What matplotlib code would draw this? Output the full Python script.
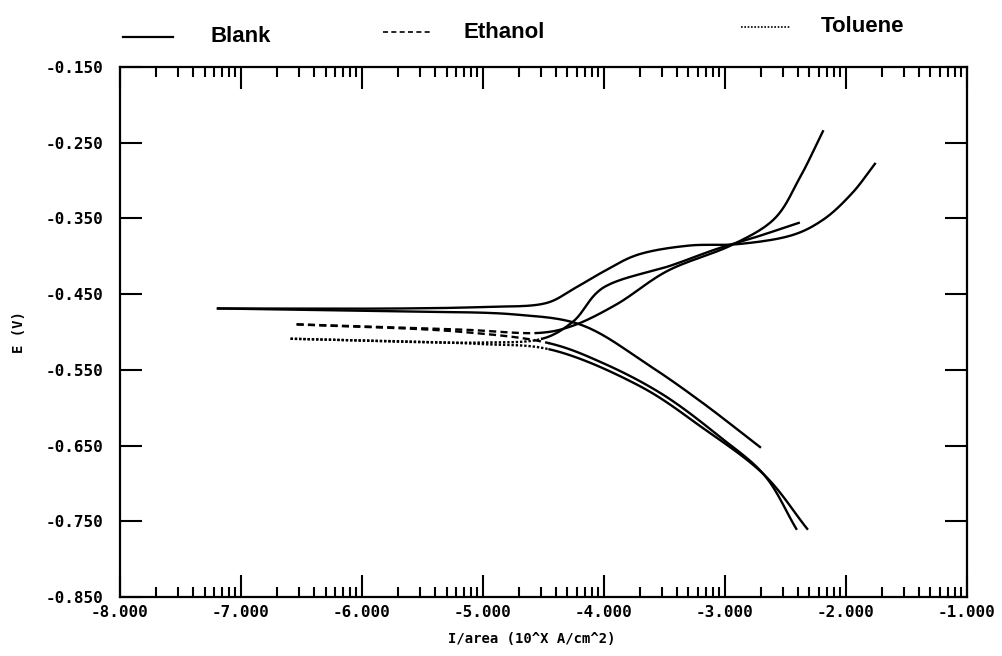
import numpy as np
import matplotlib
matplotlib.use('Agg')
import matplotlib.pyplot as plt
from matplotlib.lines import Line2D
from matplotlib.ticker import FixedLocator, FuncFormatter


# log current density (10^X A/cm^2) and potential E (V), one path per run:
# tip at Ecorr -> anodic branch, tip -> cathodic branch
blank_an_x = [-7.19, -5.67, -5.00, -4.48, -4.25, -4.00, -3.72, -3.30, -2.89, -2.44, -2.19, -1.95, -1.76]
blank_an_y = [-0.469, -0.469, -0.467, -0.462, -0.443, -0.420, -0.398, -0.386, -0.384, -0.372, -0.352, -0.317, -0.278]
blank_ca_x = [-7.19, -5.67, -4.73, -4.20, -3.62, -3.19, -2.71]
blank_ca_y = [-0.469, -0.473, -0.477, -0.490, -0.545, -0.593, -0.652]

eth_an_x = [-6.54, -5.17, -4.51, -4.26, -3.90, -3.47, -2.94, -2.60, -2.38, -2.19]
eth_an_y = [-0.490, -0.497, -0.501, -0.492, -0.464, -0.419, -0.385, -0.352, -0.296, -0.235]
eth_ca_x = [-6.54, -5.17, -4.45, -4.01, -3.52, -3.03, -2.68, -2.41]
eth_ca_y = [-0.490, -0.500, -0.515, -0.541, -0.582, -0.640, -0.688, -0.760]

tol_an_x = [-6.59, -5.01, -4.51, -4.26, -4.00, -3.44, -3.06, -2.75, -2.39]
tol_an_y = [-0.509, -0.514, -0.509, -0.487, -0.441, -0.412, -0.390, -0.375, -0.356]
tol_ca_x = [-6.59, -5.01, -4.45, -3.71, -3.19, -2.68, -2.32]
tol_ca_y = [-0.509, -0.516, -0.523, -0.571, -0.626, -0.688, -0.760]

x_major = [-8, -7, -6, -5, -4, -3, -2, -1]
y_major = [-0.85, -0.75, -0.65, -0.55, -0.45, -0.35, -0.25, -0.15]


def smooth(xs, ys, n=24):
    # centripetal Catmull-Rom through the read points (scaled to the axes box)
    P = np.column_stack([np.asarray(xs, float) / 7.0, np.asarray(ys, float) / 0.7])
    P = np.vstack([2 * P[0] - P[1], P, 2 * P[-1] - P[-2]])
    out = []
    for i in range(len(P) - 3):
        p0, p1, p2, p3 = P[i:i + 4]
        t0 = 0.0
        t1 = t0 + np.linalg.norm(p1 - p0) ** 0.5
        t2 = t1 + np.linalg.norm(p2 - p1) ** 0.5
        t3 = t2 + np.linalg.norm(p3 - p2) ** 0.5
        t = np.linspace(t1, t2, n)[:, None]
        a1 = (t1 - t) / (t1 - t0) * p0 + (t - t0) / (t1 - t0) * p1
        a2 = (t2 - t) / (t2 - t1) * p1 + (t - t1) / (t2 - t1) * p2
        a3 = (t3 - t) / (t3 - t2) * p2 + (t - t2) / (t3 - t2) * p3
        b1 = (t2 - t) / (t2 - t0) * a1 + (t - t0) / (t2 - t0) * a2
        b2 = (t3 - t) / (t3 - t1) * a2 + (t - t1) / (t3 - t1) * a3
        c = (t2 - t) / (t2 - t1) * b1 + (t - t1) / (t2 - t1) * b2
        out.append(c if i == 0 else c[1:])
    c = np.vstack(out)
    return c[:, 0] * 7.0, c[:, 1] * 0.7


fig = plt.figure(figsize=(10.03, 6.56), dpi=100)
ax = fig.add_axes([0.1196, 0.090, 0.8444, 0.808])

lw = 1.7
for xs, ys in [(blank_an_x, blank_an_y), (blank_ca_x, blank_ca_y)]:
    ax.plot(*smooth(xs, ys), color='black', lw=lw)
for xs, ys in [(eth_an_x, eth_an_y), (eth_ca_x, eth_ca_y)]:
    sx, sy = smooth(xs, ys)
    k = np.searchsorted(sx[:len(sx) // 2], xs[2])
    ax.plot(sx[:k + 1], sy[:k + 1], color='black', lw=lw, ls=(0, (3, 1.8)))
    ax.plot(sx[k:], sy[k:], color='black', lw=lw)
for xs, ys in [(tol_an_x, tol_an_y), (tol_ca_x, tol_ca_y)]:
    sx, sy = smooth(xs, ys)
    k = np.searchsorted(sx[:len(sx) // 2], xs[2])
    ax.plot(sx[:k + 1], sy[:k + 1], color='black', lw=lw, ls=(0, (1, 0.8)))
    ax.plot(sx[k:], sy[k:], color='black', lw=lw)

ax.set_xlim(-8, -1)
ax.set_ylim(-0.85, -0.15)

minor = [d + np.log10(k) for d in range(-8, -1) for k in range(2, 10)]
ax.xaxis.set_major_locator(FixedLocator(x_major))
ax.xaxis.set_minor_locator(FixedLocator(minor))
ax.yaxis.set_major_locator(FixedLocator(y_major))
fmt = FuncFormatter(lambda v, p: ('%.3f' % v).replace('\u2212', '-'))
ax.xaxis.set_major_formatter(fmt)
ax.yaxis.set_major_formatter(fmt)

ax.tick_params(which='major', direction='in', length=16, width=1.5,
               top=True, right=True, labelsize=11.5)
ax.tick_params(which='minor', direction='in', length=7.5, width=1.5, top=True)
ax.tick_params(axis='x', which='major', pad=6)
ax.tick_params(axis='y', which='major', pad=12)
for lab in ax.get_xticklabels() + ax.get_yticklabels():
    lab.set_family('DejaVu Sans Mono')
    lab.set_weight('bold')
for s in ax.spines.values():
    s.set_linewidth(1.6)

ax.set_xlabel('I/area (10^X A/cm^2)', family='DejaVu Sans Mono', weight='bold', fontsize=10)
ax.xaxis.set_label_coords(0.486, -0.066)
ax.set_ylabel('E (V)', family='DejaVu Sans Mono', weight='bold', fontsize=10)
ax.yaxis.set_label_coords(-0.111, 0.5)

# legend row above the frame (the row runs slightly uphill to the right)
items = [('Blank', '-', 0.123, 0.210, 0.944),
         ('Ethanol', (0, (3, 2)), 0.382, 0.462, 0.951),
         ('Toluene', (0, (1, 1)), 0.739, 0.818, 0.959)]
for name, ls, x0, xt, yy in items:
    fig.add_artist(Line2D([x0, x0 + 0.049], [yy, yy], color='black',
                          lw=1.6 if ls == '-' else 1.2, ls=ls, transform=fig.transFigure))
    fig.text(xt, yy, name, family='Liberation Sans', weight='bold', fontsize=16,
             va='center', ha='left')

fig.savefig('out.png', dpi=100)
